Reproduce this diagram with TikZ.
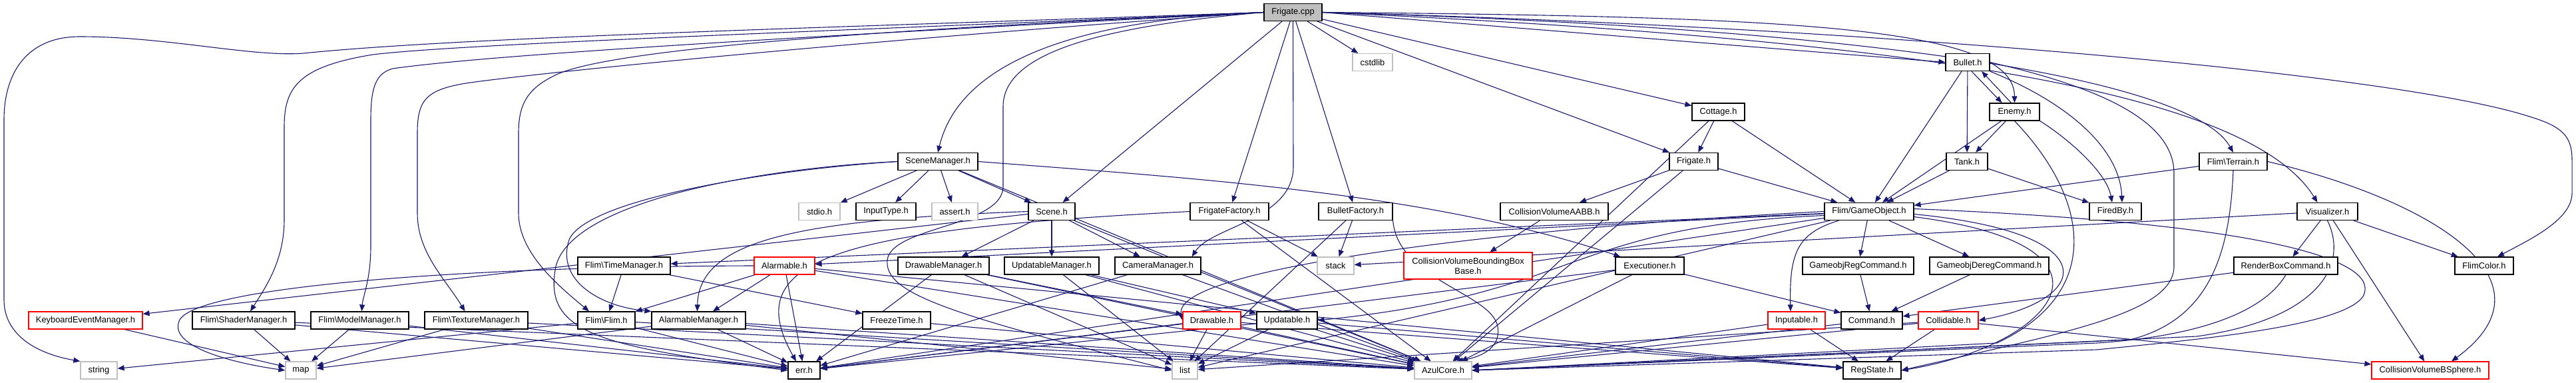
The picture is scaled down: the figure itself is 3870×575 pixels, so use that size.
\documentclass[tikz,border=0pt]{standalone}
\usepackage{fontspec}
\setmainfont{Liberation Sans}
\usetikzlibrary{arrows.meta,backgrounds,calc}
\definecolor{edgec}{HTML}{191970}
\definecolor{grayb}{HTML}{BFBFBF}
\definecolor{redb}{HTML}{FF0000}
\tikzset{
  nd/.style={draw=black, line width=1.2pt, fill=white, minimum height=26pt, inner sep=0pt, font=\fontsize{12.9pt}{15pt}\selectfont},
  gnd/.style={nd, draw=grayb},
  rnd/.style={nd, draw=redb},
  e/.style={draw=edgec, line width=1.1pt, -{Triangle[length=10pt,width=8pt]}},
}
\begin{document}
\begin{tikzpicture}[x=1pt,y=-1pt]
\useasboundingbox (0,0) rectangle (3870,575);
% row 0
\node[nd,fill=grayb,minimum width=87] (fcpp) at (1942.5,18.5) {Frigate.cpp};
% row 1
\node[gnd,minimum width=60] (cstdlib) at (2062,93.5) {cstdlib};
\node[nd,minimum width=66] (bullet) at (2956,93.5) {Bullet.h};
% row 2
\node[nd,minimum width=79] (cottage) at (2581.5,168) {Cottage.h};
\node[nd,minimum width=75] (enemy) at (3026.5,168) {Enemy.h};
% row 3
\node[nd,minimum width=120] (scenemgr) at (1409,242.5) {SceneManager.h};
\node[nd,minimum width=73] (frigateh) at (2544.5,242.5) {Frigate.h};
\node[nd,minimum width=62] (tank) at (2955,242.5) {Tank.h};
\node[nd,minimum width=102] (terrain) at (3355,242.5) {Flim\textbackslash Terrain.h};
% row 4
\node[gnd,minimum width=62] (stdio) at (1231,317.5) {stdio.h};
\node[nd,minimum width=90] (inputtype) at (1331,317.5) {InputType.h};
\node[gnd,minimum width=69] (assert) at (1434.5,317.5) {assert.h};
\node[nd,minimum width=70] (scene) at (1580,317.5) {Scene.h};
\node[nd,minimum width=118] (frigatefac) at (1847,317.5) {FrigateFactory.h};
\node[nd,minimum width=111] (bulletfac) at (2036.5,317.5) {BulletFactory.h};
\node[nd,minimum width=162] (cvaabb) at (2335,317.5) {CollisionVolumeAABB.h};
\node[nd,minimum width=134] (gameobj) at (2808,317.5) {Flim/GameObject.h};
\node[nd,minimum width=78] (firedby) at (3178,317.5) {FiredBy.h};
\node[nd,minimum width=91] (visualizer) at (3496.5,317.5) {Visualizer.h};
% row 5
\node[nd,minimum width=139] (timemgr) at (937.5,399) {Flim\textbackslash TimeManager.h};
\node[rnd,minimum width=91] (alarmable) at (1178.5,399) {Alarmable.h};
\node[nd,minimum width=137] (drawmgr) at (1417.5,399) {DrawableManager.h};
\node[nd,minimum width=142] (updmgr) at (1580,399) {UpdatableManager.h};
\node[nd,minimum width=129] (cammgr) at (1739.5,399) {CameraManager.h};
\node[gnd,minimum width=55] (stack) at (2006.5,399) {stack};
\node[rnd,minimum width=193,minimum height=40,align=center] (cvbbb) at (2205.5,399) {CollisionVolumeBoundingBox\\Base.h};
\node[nd,minimum width=103] (exec) at (2478.5,399) {Executioner.h};
\node[nd,minimum width=167] (regcmd) at (2791.5,399) {GameobjRegCommand.h};
\node[nd,minimum width=179] (deregcmd) at (2988.5,399) {GameobjDeregCommand.h};
\node[nd,minimum width=156] (renderbox) at (3434,399) {RenderBoxCommand.h};
\node[nd,minimum width=88] (flimcolor) at (3732,399) {FlimColor.h};
% row 6
\node[rnd,minimum width=171] (keyboard) at (128.5,481) {KeyboardEventManager.h};
\node[nd,minimum width=154] (shader) at (366,481) {Flim\textbackslash ShaderManager.h};
\node[nd,minimum width=147] (model) at (540.5,481) {Flim\textbackslash ModelManager.h};
\node[nd,minimum width=155] (texture) at (715.5,481) {Flim\textbackslash TextureManager.h};
\node[nd,minimum width=86] (flim) at (911,481) {Flim\textbackslash Flim.h};
\node[nd,minimum width=141] (alarmmgr) at (1049.5,481) {AlarmableManager.h};
\node[nd,minimum width=102] (freeze) at (1347,481) {FreezeTime.h};
\node[rnd,minimum width=87] (drawable) at (1820.5,481) {Drawable.h};
\node[nd,minimum width=91] (updatable) at (1933.5,481) {Updatable.h};
\node[rnd,minimum width=86] (inputable) at (2699,481) {Inputable.h};
\node[nd,minimum width=92] (command) at (2812,481) {Command.h};
\node[rnd,minimum width=90] (collidable) at (2927,481) {Collidable.h};
% row 7
\node[gnd,minimum width=55] (string) at (148.5,556) {string};
\node[gnd,minimum width=46] (map) at (452,556) {map};
\node[nd,minimum width=48] (err) at (1208,556) {err.h};
\node[gnd,minimum width=38] (list) at (1780,556) {list};
\node[gnd,minimum width=86] (azul) at (2168,556) {AzulCore.h};
\node[nd,minimum width=87] (regstate) at (2812.5,556) {RegState.h};
\node[rnd,minimum width=176] (bsphere) at (3651,556) {CollisionVolumeBSphere.h};

\begin{pgfonlayer}{background}
% long curved edges from Frigate.cpp
\draw[e] (fcpp.west) .. controls (1300,40) and (700,55) .. (456,80) .. controls (380,86) and (250,55) .. (120,55) .. controls (40,55) and (6,110) .. (6,180) -- (6,450) .. controls (6,500) and (50,530) .. (string.north west);
\draw[e] (fcpp.west) .. controls (1300,45) and (700,65) .. (560,82) .. controls (450,100) and (427,130) .. (427,190) -- (427,330) .. controls (427,390) and (400,430) .. ($(shader.north)+(10,0)$);
\draw[e] (fcpp.west) .. controls (1300,50) and (750,80) .. (590,103) .. controls (565,110) and (557,130) .. (557,180) -- (557,370) .. controls (557,420) and (545,445) .. ($(model.north)+(3,0)$);
\draw[e] (fcpp.west) .. controls (1300,60) and (800,110) .. (700,125) .. controls (640,135) and (627,150) .. (627,200) -- (627,320) .. controls (627,380) and (670,420) .. ($(texture.north)+(-17,0)$);
\draw[e] (fcpp.west) .. controls (1300,45) and (900,75) .. (830,115) .. controls (790,135) and (779,160) .. (779,200) -- (779,320) .. controls (779,380) and (840,430) .. ($(flim.north)+(-26,0)$);
\draw[e] (fcpp.west) .. controls (1600,30) and (1440,100) .. (scenemgr.north);
\draw[e] (fcpp.west) .. controls (1650,40) and (1507,80) .. (1507,160) -- (1507,280) .. controls (1507,340) and (1340,340) .. (1333,390) .. controls (1328,440) and (1420,470) .. (list.west);
\draw[e] (fcpp.south) -- (1943,250) .. controls (1943,330) and (1820,340) .. ($(cammgr.north east)+(-14,0)$);
\draw[e] (fcpp.east) .. controls (2700,25) and (3026,40) .. (enemy.north);
\draw[e] (fcpp.east) .. controls (2900,45) and (3300,130) .. (terrain.north);
\draw[e] (fcpp.east) .. controls (2900,60) and (3380,140) .. ($(visualizer.north)+(-15,0)$);
\draw[e] (fcpp.east) .. controls (2800,40) and (3600,110) .. (3800,175) .. controls (3850,190) and (3864,205) .. (3864,240) -- (3864,290) .. controls (3864,330) and (3800,360) .. ($(flimcolor.north)+(20,0)$);
\draw[e] (fcpp.east) -- (bullet.west);
% SceneManager curves
\draw[e] (scenemgr.west) .. controls (1150,255) and (880,300) .. (855,360) .. controls (835,420) and (900,460) .. (alarmmgr.north west);
\draw[e] (scenemgr.west) .. controls (1150,252) and (860,300) .. (835,400) .. controls (815,500) and (900,520) .. (err.west);
\draw[e] (scenemgr.east) .. controls (1800,268) and (2150,290) .. ($(exec.north west)+(8,0)$);
% Scene / factory curves
\draw[e] (scene.west) .. controls (1200,330) and (1050,360) .. ($(alarmmgr.north)+(-2,0)$);
\draw[e] (frigatefac.west) .. controls (1250,345) and (1110,390) .. ($(err.north)+(-12,0)$);
\draw[e] (bulletfac.south east) .. controls (2100,420) and (2240,440) .. (2250,490) .. controls (2255,520) and (2230,535) .. ($(azul.north)+(20,0)$);
% Alarmable to map
\draw[e] (alarmable.west) .. controls (700,400) and (300,430) .. (270,480) .. controls (250,520) and (350,545) .. (map.west);
% Bullet / Enemy
\draw[e] ($(bullet.south)+(6,0)$) -- ($(enemy.north)+(-19,0)$);
\draw[e] ($(enemy.north)+(-5,0)$) -- ($(bullet.south)+(21,0)$);
\draw[e] (bullet.south east) .. controls (3120,160) and (3185,230) .. ($(firedby.north)+(10,0)$);
\draw[e] (enemy.south east) .. controls (3110,210) and (3165,260) .. ($(firedby.north)+(-5,0)$);
\draw[e] (enemy.south) .. controls (3140,300) and (3160,440) .. (3000,515) -- (azul.east);
\draw[e] (bullet.east) .. controls (3150,130) and (3266,180) .. (3266,260) -- (3266,400) .. controls (3266,470) and (3100,500) .. (regstate.east);
% Terrain
\draw[e] (terrain.south) .. controls (3350,380) and (3320,480) .. (3200,510) -- (azul.east);
\draw[e] (terrain.east) .. controls (3650,300) and (3850,420) .. ($(bsphere.north)+(32,0)$);
% GameObject curves
\draw[e] ($(gameobj.south west)+(22,0)$) .. controls (2700,350) and (2688,380) .. ($(inputable.north)+(-9,0)$);
\draw[e] ($(gameobj.east)+(0,4)$) .. controls (3170,350) and (3140,450) .. (collidable.east);
\draw[e] ($(gameobj.east)+(0,8)$) .. controls (3220,370) and (3080,520) .. (regstate.east);
\draw[e] ($(gameobj.east)+(0,-4)$) .. controls (3400,335) and (3580,390) .. (3550,445) .. controls (3520,490) and (3300,510) .. (3150,525) -- (azul.east);
\draw[e] (gameobj.west) .. controls (2300,340) and (1760,400) .. (drawable.west);
\draw[e] ($(gameobj.west)+(0,6)$) .. controls (2350,340) and (2380,440) .. (updatable.east);
% Visualizer / RenderBox
\draw[e] (visualizer.south) .. controls (3530,400) and (3480,480) .. (3300,505) -- (azul.east);
\draw[e] (renderbox.south) .. controls (3400,470) and (3300,505) .. (3150,515) -- (azul.east);
% straight edges
\foreach \a/\b in {fcpp/scene, fcpp/frigatefac, fcpp/bulletfac, fcpp/cstdlib, fcpp/frigateh, fcpp/cottage,
  scenemgr/stdio, scenemgr/inputtype, scenemgr/assert, scenemgr/scene, scenemgr/azul,
  scene/drawmgr, scene/updmgr, scene/cammgr, scene/keyboard, scene/azul,
  timemgr/flim, timemgr/freeze,
  alarmable/alarmmgr, alarmable/flim, alarmable/err, alarmable/azul, alarmable/regstate,
  alarmmgr/err, alarmmgr/map, alarmmgr/azul, alarmmgr/list,
  freeze/azul, flim/string, flim/err, flim/azul,
  shader/map, shader/err, shader/azul, model/map, model/err,
  texture/map, texture/err, texture/azul, keyboard/map,
  drawmgr/drawable, drawmgr/list, drawmgr/err, drawmgr/azul,
  updmgr/updatable, updmgr/list, updmgr/azul,
  cammgr/err, cammgr/azul,
  drawable/list, drawable/err, drawable/azul, drawable/regstate,
  updatable/list, updatable/err, updatable/azul, updatable/regstate,
  bulletfac/stack, bulletfac/list, frigatefac/stack, frigatefac/azul,
  cvaabb/cvbbb, frigateh/gameobj, frigateh/cvaabb, frigateh/azul,
  cottage/frigateh, cottage/gameobj, cottage/azul,
  bullet/tank, bullet/gameobj,
  enemy/tank, enemy/gameobj, tank/gameobj, tank/firedby, terrain/gameobj,
  gameobj/alarmable, gameobj/timemgr, gameobj/regcmd, gameobj/deregcmd, gameobj/err, gameobj/list,
  exec/command, exec/azul, exec/err, regcmd/command, deregcmd/command, command/azul,
  inputable/regstate, inputable/azul,
  collidable/regstate, collidable/bsphere, collidable/azul, collidable/list,
  visualizer/renderbox, visualizer/flimcolor, visualizer/bsphere, visualizer/stack,
  renderbox/command}
  \draw[e] (\a) -- (\b);
\end{pgfonlayer}
\end{tikzpicture}
\end{document}
